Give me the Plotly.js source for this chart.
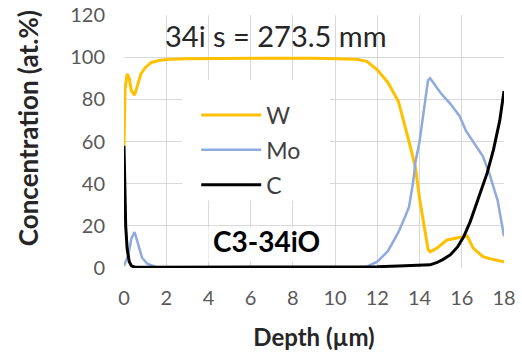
<!DOCTYPE html>
<html>
<head>
<meta charset="utf-8">
<script src="https://cdn.plot.ly/plotly-3.0.1.min.js"></script>
<style>html,body{margin:0;padding:0;background:#fff;}#chart{width:522px;height:355px;}</style>
</head>
<body>
<div id="chart"></div>
<script>
// Depth (µm) and concentration (at.%)
const wDepth = [0, 0.05, 0.15, 0.25, 0.35, 0.5, 0.65, 0.8, 1.0, 1.3, 1.7, 2.2, 3, 5, 7, 9, 10, 10.5, 11, 11.5, 12, 12.5, 13, 13.5, 13.8, 14.0, 14.2, 14.4, 14.5, 14.8, 15.3, 15.9, 16.25, 16.55, 17.0, 17.5, 18];
const wConc  = [58, 85, 92, 90, 84, 82, 87, 92, 95, 97.5, 98.5, 99, 99.3, 99.5, 99.5, 99.5, 99.4, 99.2, 99, 98, 94, 88, 79, 60, 48, 33, 20, 9, 7.7, 9.3, 13.3, 14.5, 15.2, 9.3, 5.4, 4, 3];

const moDepth = [0, 0.2, 0.35, 0.5, 0.65, 0.85, 1.1, 1.5, 2, 4, 8, 10, 11, 11.5, 12, 12.5, 13, 13.3, 13.5, 13.7, 13.8, 14.0, 14.2, 14.4, 14.5, 14.65, 15.0, 15.45, 15.9, 16.2, 16.4, 16.7, 17.0, 17.3, 17.7, 18];
const moConc  = [1, 6, 14, 17, 12, 5, 2, 0.5, 0, 0, 0, 0, 0.3, 0.6, 3, 8, 17, 24, 29, 41, 50, 60, 75, 89, 90, 88, 83, 78, 72, 65, 62, 58, 53, 45, 32, 15];

const cDepth = [0, 0.03, 0.08, 0.15, 0.25, 0.35, 0.5, 1, 3, 6, 9, 11, 12, 13, 14, 14.5, 14.8, 15.1, 15.45, 15.8, 16.1, 16.4, 16.7, 17.0, 17.2, 17.5, 17.8, 18];
const cConc  = [58, 40, 20, 9, 3, 1, 0.5, 0.3, 0.3, 0.3, 0.3, 0.4, 0.6, 1, 1.3, 1.5, 2.5, 4, 6.2, 10, 15, 22, 30.6, 39, 45, 56, 70, 84];

const seriesNames = ["W", "Mo", "C"];
const xTicks = [0, 2, 4, 6, 8, 10, 12, 14, 16, 18];
const yTicks = [0, 20, 40, 60, 80, 100, 120];
const sampleLabel = "34i s = 273.5 mm";
const sampleCode = "C3-34iO";

const FONT = "Lato, 'Open Sans', sans-serif";

const traces = [
  {x: wDepth, y: wConc, name: seriesNames[0], legendgroup: "a", mode: "lines", line: {color: "#FFC000", width: 3}},
  {x: moDepth, y: moConc, name: seriesNames[1], legendgroup: "b", mode: "lines", line: {color: "#8FAADC", width: 2.5}},
  {x: cDepth, y: cConc, name: seriesNames[2], legendgroup: "c", mode: "lines", line: {color: "#000000", width: 3}}
];

const layout = {
  width: 522, height: 355,
  margin: {l: 124, r: 18, t: 15, b: 87, pad: 0},
  paper_bgcolor: "#fff", plot_bgcolor: "#fff",
  font: {family: FONT, color: "#595959", size: 20},
  showlegend: true,
  legend: {
    x: 0.19, xanchor: "left", y: 0.69, yanchor: "top",
    bgcolor: "rgba(0,0,0,0)", borderwidth: 0,
    font: {family: FONT, size: 23, color: "#404040"},
    traceorder: "grouped", tracegroupgap: 2, itemwidth: 60
  },
  xaxis: {
    range: [0, 18], tickvals: xTicks, ticktext: xTicks.map(String),
    showgrid: true, gridcolor: "#d9d9d9", gridwidth: 1,
    zeroline: false, showline: false, ticks: "", ticklabelstandoff: 16,
    tickfont: {family: FONT, size: 20, color: "#595959"},
    title: {text: "<b>Depth (µm)</b>", font: {family: FONT, size: 24, color: "#262626"}, standoff: 21}
  },
  yaxis: {
    range: [0, 120], tickvals: yTicks, ticktext: yTicks.map(String),
    showgrid: true, gridcolor: "#d9d9d9", gridwidth: 1,
    zeroline: false, showline: false, ticks: "", ticklabelstandoff: 18,
    tickfont: {family: FONT, size: 20, color: "#595959"},
    title: {text: "&nbsp;&nbsp;&nbsp;&nbsp;<b>Concentration (at.%)</b>", font: {family: FONT, size: 26, color: "#262626"}, standoff: 24}
  },
  shapes: [
    {type: "rect", xref: "x", yref: "y", x0: 2.75, x1: 9.75, y0: 32, y1: 89, layer: "between", fillcolor: "#fff", line: {width: 0}},
    {type: "rect", xref: "x", yref: "y", x0: 4.0, x1: 9.4, y0: 3, y1: 19.5, layer: "between", fillcolor: "#fff", line: {width: 0}}
  ],
  annotations: [
    {text: sampleLabel, xref: "paper", yref: "paper", x: 0.4, y: 0.92, xanchor: "center", yanchor: "middle", showarrow: false,
     font: {family: FONT, size: 29, color: "#262626"}},
    {text: "<b>" + sampleCode + "</b>", xref: "paper", yref: "paper", x: 0.375, y: 0.105, xanchor: "center", yanchor: "middle", showarrow: false,
     font: {family: FONT, size: 28, color: "#000"}}
  ]
};

Plotly.newPlot("chart", traces, layout, {displayModeBar: false, staticPlot: true});
</script>
</body>
</html>
